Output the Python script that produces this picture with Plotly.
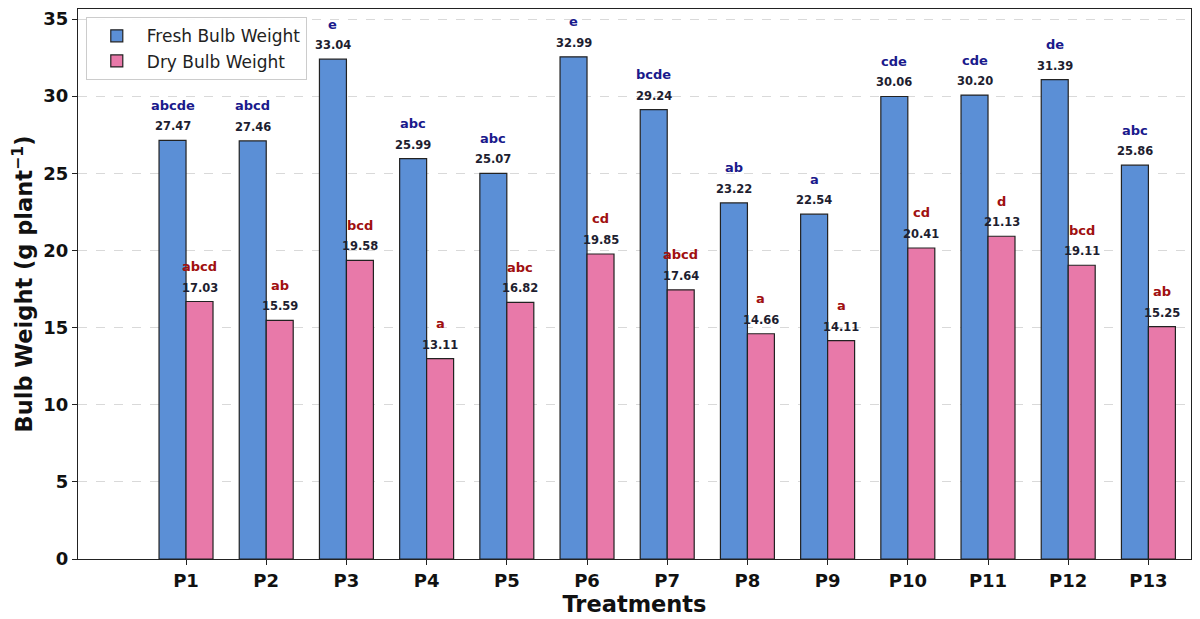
import plotly.graph_objects as go

# ---- data ----
treatments = ["P1", "P2", "P3", "P4", "P5", "P6", "P7", "P8", "P9", "P10", "P11", "P12", "P13"]
fresh_height = [27.14, 27.10, 32.40, 25.95, 25.00, 32.55, 29.13, 23.08, 22.35, 29.98, 30.07, 31.07, 25.53]
dry_height = [16.69, 15.47, 19.36, 12.99, 16.64, 19.77, 17.45, 14.60, 14.15, 20.16, 20.92, 19.04, 15.06]
fresh_label = ["27.47", "27.46", "33.04", "25.99", "25.07", "32.99", "29.24", "23.22", "22.54", "30.06", "30.20", "31.39", "25.86"]
dry_label = ["17.03", "15.59", "19.58", "13.11", "16.82", "19.85", "17.64", "14.66", "14.11", "20.41", "21.13", "19.11", "15.25"]
fresh_letters = ["abcde", "abcd", "e", "abc", "abc", "e", "bcde", "ab", "a", "cde", "cde", "de", "abc"]
dry_letters = ["abcd", "ab", "bcd", "a", "abc", "cd", "abcd", "a", "a", "cd", "d", "bcd", "ab"]
y_ticks = [0, 5, 10, 15, 20, 25, 30, 35]

FONT = "DejaVu Sans"
FRESH_COLOR = "#5B8FD6"
DRY_COLOR = "#E879A9"

fig = go.Figure()
fig.add_trace(go.Bar(
    x=treatments, y=fresh_height, name="Fresh Bulb Weight",
    marker=dict(color=FRESH_COLOR, line=dict(color="#222222", width=1.2)),
))
fig.add_trace(go.Bar(
    x=treatments, y=dry_height, name="Dry Bulb Weight",
    marker=dict(color=DRY_COLOR, line=dict(color="#222222", width=1.2)),
))

half = 13.5
for t, h, lab, let in zip(treatments, fresh_height, fresh_label, fresh_letters):
    fig.add_annotation(x=t, y=h, xshift=-half, yshift=14, text=f"<b>{lab}</b>",
                       showarrow=False, font=dict(family=FONT, size=11.5, color="#1e1e30"))
    fig.add_annotation(x=t, y=h, xshift=-half, yshift=35, text=f"<b>{let}</b>",
                       showarrow=False, font=dict(family=FONT, size=13, color="#1a1a8c"))
for t, h, lab, let in zip(treatments, dry_height, dry_label, dry_letters):
    fig.add_annotation(x=t, y=h, xshift=half, yshift=14, text=f"<b>{lab}</b>",
                       showarrow=False, font=dict(family=FONT, size=11.5, color="#1e1e30"))
    fig.add_annotation(x=t, y=h, xshift=half, yshift=35, text=f"<b>{let}</b>",
                       showarrow=False, font=dict(family=FONT, size=13, color="#a01010"))

fig.update_layout(
    width=1200, height=619,
    margin=dict(l=70, r=17, t=1, b=68),
    paper_bgcolor="white", plot_bgcolor="white",
    barmode="group", bargap=0.327, bargroupgap=0,
    font=dict(family=FONT, color="black"),
    legend=dict(
        x=0.007, y=0.985, xanchor="left", yanchor="top",
        bgcolor="rgba(255,255,255,0.9)", bordercolor="#cccccc", borderwidth=1,
        font=dict(family=FONT, size=17, color="#222222"),
        itemwidth=50,
    ),
    xaxis=dict(
        range=[-1.347, 12.531],
        showline=True, linecolor="#222222", linewidth=1.2, mirror=True,
        ticks="outside", ticklen=5, tickcolor="#222222",
        tickfont=dict(family=FONT, size=18, color="#111111"),
        tickprefix="<b>", ticksuffix="</b>",
        title=dict(text="<b>Treatments</b>", font=dict(family=FONT, size=22.5, color="#111111"), standoff=2),
        showgrid=False,
    ),
    yaxis=dict(
        range=[0, 35.65],
        tickvals=y_ticks, ticktext=[f"<b>{v}</b>" for v in y_ticks],
        ticklabeloverflow="allow",
        showline=True, linecolor="#222222", linewidth=1.2, mirror=True,
        ticks="outside", ticklen=5, tickcolor="#222222",
        tickfont=dict(family=FONT, size=18, color="#111111"),
        showgrid=True, gridcolor="#d9d9d9", griddash="dash", gridwidth=1,
        zeroline=False,
        title=dict(text="<b>Bulb Weight (g plant<sup>−1</sup>)</b>", font=dict(family=FONT, size=22.5, color="#111111"), standoff=6),
    ),
)

fig.write_html("out.html")
